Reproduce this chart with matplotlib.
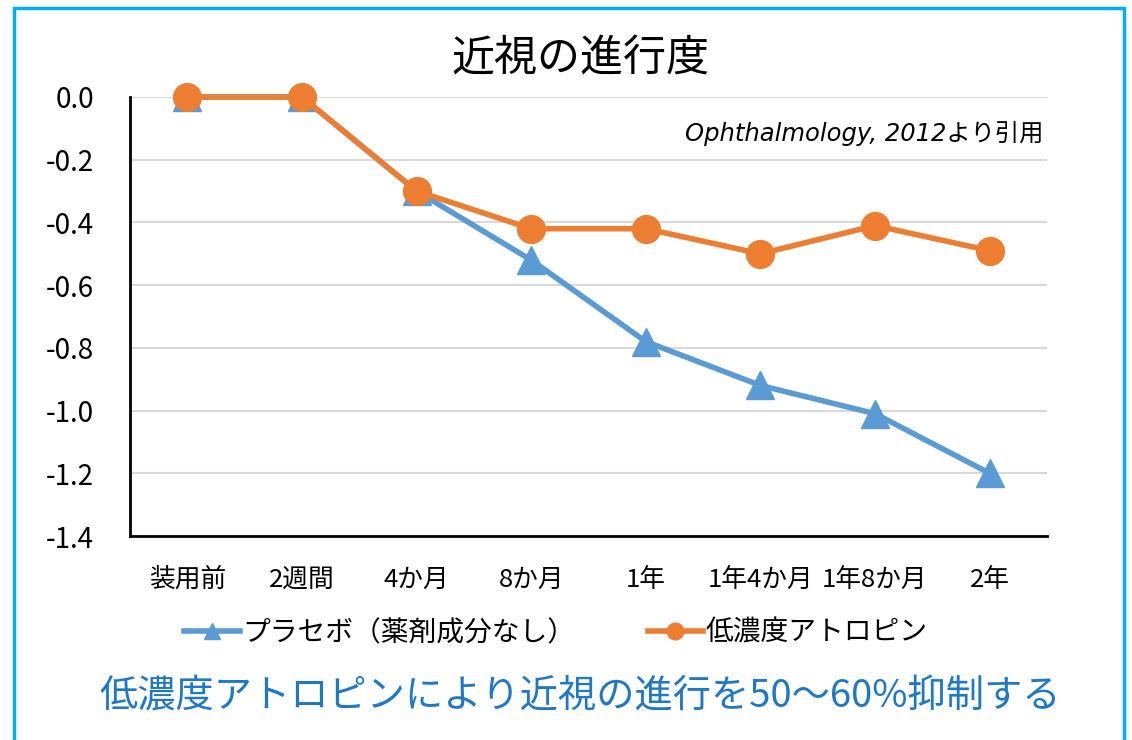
import matplotlib
matplotlib.use("Agg")
import matplotlib.pyplot as plt
from matplotlib.patches import Rectangle

plt.rcParams['font.family'] = ['Noto Sans CJK JP', 'DejaVu Sans']

# データ
periods = ["装用前", "2週間", "4か月", "8か月", "1年", "1年4か月", "1年8か月", "2年"]
placebo = [0.0, 0.0, -0.30, -0.52, -0.78, -0.92, -1.01, -1.20]
atropine = [0.0, 0.0, -0.30, -0.42, -0.42, -0.50, -0.41, -0.49]
y_ticks = [0.0, -0.2, -0.4, -0.6, -0.8, -1.0, -1.2, -1.4]

blue = "#5B9BD5"
orange = "#ED7D31"

fig = plt.figure(figsize=(11.32, 7.4), dpi=100)
ax = fig.add_axes([130 / 1132, 1 - 536 / 740, 917 / 1132, 439 / 740])

x = range(len(periods))
ax.plot(x, placebo, color=blue, lw=4, marker="^", markersize=20,
        label="プラセボ（薬剤成分なし）", clip_on=False, zorder=3)
ax.plot(x, atropine, color=orange, lw=4, marker="o", markersize=20,
        label="低濃度アトロピン", clip_on=False, zorder=4)

ax.set_xlim(-0.5, len(periods) - 0.5)
ax.set_ylim(-1.4, 0.0)
ax.set_yticks(y_ticks)
ax.set_yticklabels(["%.1f" % v for v in y_ticks])
ax.set_xticks(list(x))
ax.set_xticklabels(periods)
ax.grid(axis="y", color="#D9D9D9", lw=1.5)
ax.set_axisbelow(True)
for s in ["top", "right"]:
    ax.spines[s].set_visible(False)
ax.spines["left"].set_linewidth(2)
ax.spines["bottom"].set_linewidth(2)
ax.tick_params(axis="both", length=0)
ax.tick_params(axis="y", labelsize=20, pad=26)
ax.tick_params(axis="x", labelsize=18.5, pad=22)

fig.text(580 / 1132, 1 - 60 / 740, "近視の進行度", fontsize=31, ha="center", va="center")
fig.text(1043 / 1132, 1 - 133 / 740, "Ophthalmology, 2012より引用", fontsize=17.5,
         style="italic", family=["DejaVu Sans", "Noto Sans CJK JP"], ha="right", va="center")

fig.legend(loc="center", bbox_to_anchor=(556 / 1132, 1 - 633 / 740), ncol=2, frameon=False,
           fontsize=20, handlelength=2.0, columnspacing=2.6, handletextpad=0.1,
           markerscale=0.6)

fig.text(580 / 1132, 1 - 697 / 740, "低濃度アトロピンにより近視の進行を50〜60%抑制する",
         fontsize=27.5, color="#1F77C8", ha="center", va="center")

fig.patches.append(Rectangle((14 / 1132, -0.05), 1110 / 1132, 1.05 - 8 / 740,
                             transform=fig.transFigure, fill=False, edgecolor="#00B0F0", lw=2.5))

fig.savefig("out.png", dpi=100)
